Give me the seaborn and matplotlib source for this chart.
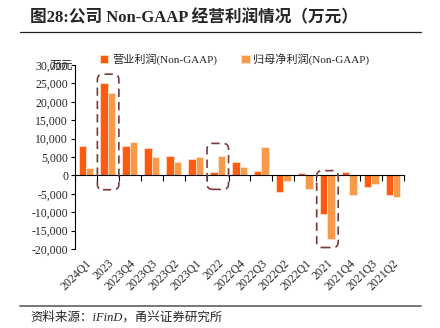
import matplotlib
matplotlib.use("Agg")
import matplotlib.pyplot as plt
from matplotlib.patches import FancyBboxPatch
from matplotlib.lines import Line2D
import seaborn as sns
import pandas as pd
import numpy as np

categories = ["2024Q1", "2023", "2023Q4", "2023Q3", "2023Q2", "2023Q1", "2022",
              "2022Q4", "2022Q3", "2022Q2", "2022Q1", "2021", "2021Q4", "2021Q3", "2021Q2"]
op_profit = [8100, 25200, 8100, 7400, 5200, 4400, 900, 3600, 1200, -4400, 600, -10600, 1000, -3200, -5300]
net_profit = [2100, 22500, 9100, 4900, 3700, 5000, 5300, 2300, 7800, -1500, -3800, -17200, -5200, -2400, -6000]
series_names = ["营业利润(Non-GAAP)", "归母净利润(Non-GAAP)"]
yticks = [-20000, -15000, -10000, -5000, 0, 5000, 10000, 15000, 20000, 25000, 30000]
highlight = [("2023", 27500, -3900), ("2022", 8700, -3800), ("2021", 1300, -19600)]

sns.set_theme(style="white")
plt.rcParams['font.family'] = ['Liberation Serif', 'Noto Sans CJK SC', 'DejaVu Sans']
plt.rcParams['axes.unicode_minus'] = False

df = pd.DataFrame({
    "cat": categories * 2,
    "val": op_profit + net_profit,
    "series": [series_names[0]] * len(categories) + [series_names[1]] * len(categories),
})

fig = plt.figure(figsize=(4.4, 3.28), dpi=100)
ax = fig.add_axes([75/440, 1-249/328, (404-75)/440, (249-65)/328])

sns.barplot(data=df, x="cat", y="val", hue="series", order=categories,
            hue_order=series_names, palette=["#FF5A0F", "#F99A4A"],
            width=0.68, saturation=1, edgecolor="#FFE6D6", linewidth=0.5, ax=ax)

ax.set_xlim(-0.5, len(categories) - 0.5)
ax.set_ylim(-20000, 30000)
ax.set_yticks(yticks)
ax.set_yticklabels([f"{v:,}" for v in yticks], fontsize=8.5)
ax.tick_params(axis='y', length=3, width=0.8, color='black', direction='out', pad=2, left=True)
ax.set_xlabel("")
ax.set_ylabel("")
for s in ["top", "right"]:
    ax.spines[s].set_visible(False)
ax.spines["left"].set_color("black")
ax.spines["left"].set_linewidth(0.8)
ax.spines["bottom"].set_position(("data", 0))
ax.spines["bottom"].set_color("black")
ax.spines["bottom"].set_linewidth(0.8)
bounds = np.arange(len(categories) + 1) - 0.5
ax.set_xticks(bounds)
ax.set_xticklabels([""] * len(bounds))
ax.tick_params(axis='x', length=4, width=0.8, color='black', direction='out', bottom=True)

sec = ax.secondary_xaxis(0)
sec.set_xticks(range(len(categories)))
sec.set_xticklabels(categories, rotation=45, ha='right', rotation_mode='anchor', fontsize=8.5)
sec.tick_params(length=0, pad=6)
sec.spines["bottom"].set_visible(False)

# dashed highlight boxes
aspect = (50000 / 184) / (len(categories) / 329)
for cat, top, bot in highlight:
    i = categories.index(cat)
    box = FancyBboxPatch((i - 0.48, bot), 0.98, top - bot,
                         boxstyle="round,pad=0,rounding_size=0.25",
                         mutation_aspect=aspect, fill=False,
                         edgecolor="#7A3A3A", linewidth=1.2,
                         linestyle=(0, (5, 3)), zorder=5, clip_on=False)
    ax.add_patch(box)

leg = ax.legend(loc="center", bbox_to_anchor=(0.485, 1.03), ncol=2, frameon=False,
                fontsize=8, handlelength=0.75, handleheight=0.75, handletextpad=0.35,
                columnspacing=2.2, borderaxespad=0)

fig.text(50/440, 1-66/328, "万元", fontsize=8.5, ha='left', va='center')

fig.text(30/440, 1-18/328, "图28:公司 Non-GAAP 经营利润情况（万元）", fontsize=12,
         fontweight='bold', ha='left', va='center')
fig.add_artist(Line2D([20/440, 421/440], [1-32/328, 1-32/328], color="#222222", lw=0.9))
fig.add_artist(Line2D([20/440, 421/440], [1-306/328, 1-306/328], color="#777777", lw=1.4))
fig.text(30/440, 1-317/328, "资料来源：iFinD，甬兴证券研究所", fontsize=9,
         style='italic', ha='left', va='center')

fig.savefig("out.png", dpi=100)
